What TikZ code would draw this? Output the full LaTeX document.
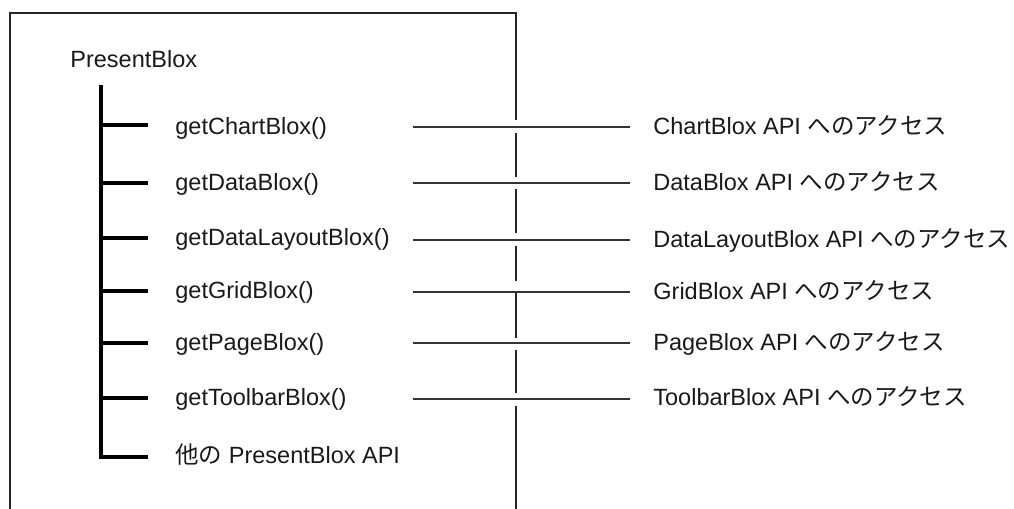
\documentclass[tikz,border=0pt]{standalone}
\usepackage{fontspec}
\setmainfont{Liberation Sans}
\newfontfamily\jp{Noto Sans CJK JP}
\usepackage{tikz}

\begin{document}
\begin{tikzpicture}
  [x=0.5pt, y=-0.5pt,
   frame/.style={draw=black!85, line width=1.4pt},
   tree/.style={draw=black, line width=2pt},
   link/.style={draw=black!80, line width=0.9pt},
   label/.style={anchor=base west, inner sep=0pt, text=black!90,
                 font=\fontsize{11.75}{14}\selectfont},
  ]
  \useasboundingbox (0,0) rectangle (1014,509);

  % outer frame, broken where the links pass
  \draw[frame] (10,509) -- (10,13) -- (516,13) -- (516,120);
  \draw[frame] (516,133) -- (516,177);
  \draw[frame] (516,189) -- (516,233);
  \draw[frame] (516,246) -- (516,281);
  \draw[frame] (516,293) -- (516,338);
  \draw[frame] (516,350) -- (516,393);
  \draw[frame] (516,406) -- (516,509);

  \node[label] (root) at (70,67) {PresentBlox};

  \node[label] (m1) at (175,134) {getChartBlox()};
  \node[label] (m2) at (175,190) {getDataBlox()};
  \node[label] (m3) at (175,245) {getDataLayoutBlox()};
  \node[label] (m4) at (175,298) {getGridBlox()};
  \node[label] (m5) at (175,350) {getPageBlox()};
  \node[label] (m6) at (175,405) {getToolbarBlox()};
  \node[label] (m7) at (175,463) {{\jp 他の} PresentBlox API};

  \node[label] (a1) at (653,134) {ChartBlox API {\jp へのアクセス}};
  \node[label] (a2) at (653,190) {DataBlox API {\jp へのアクセス}};
  \node[label] (a3) at (653,247) {DataLayoutBlox API {\jp へのアクセス}};
  \node[label] (a4) at (653,299) {GridBlox API {\jp へのアクセス}};
  \node[label] (a5) at (653,350) {PageBlox API {\jp へのアクセス}};
  \node[label] (a6) at (653,405) {ToolbarBlox API {\jp へのアクセス}};

  % tree
  \coordinate (t0) at (101,85);
  \coordinate (t7) at (101,457);
  \coordinate (e7) at (148,457);
  \coordinate (b1) at (101,125);  \coordinate (e1) at (148,125);
  \coordinate (b2) at (101,183);  \coordinate (e2) at (148,183);
  \coordinate (b3) at (101,238);  \coordinate (e3) at (148,238);
  \coordinate (b4) at (101,291);  \coordinate (e4) at (148,291);
  \coordinate (b5) at (101,343);  \coordinate (e5) at (148,343);
  \coordinate (b6) at (101,398);  \coordinate (e6) at (148,398);

  \draw[tree, line join=miter] (t0) -- (t7) -- (e7);
  \path (b1) edge[tree] (e1)
        (b2) edge[tree] (e2)
        (b3) edge[tree] (e3)
        (b4) edge[tree] (e4)
        (b5) edge[tree] (e5)
        (b6) edge[tree] (e6);

  % links to the apis
  \coordinate (l1) at (413,127);  \coordinate (r1) at (630,127);
  \coordinate (l2) at (413,183);  \coordinate (r2) at (630,183);
  \coordinate (l3) at (413,240);  \coordinate (r3) at (630,240);
  \coordinate (l4) at (413,292);  \coordinate (r4) at (630,292);
  \coordinate (l5) at (413,343);  \coordinate (r5) at (630,343);
  \coordinate (l6) at (413,399);  \coordinate (r6) at (630,399);

  \path (l1) edge[link] (r1)
        (l2) edge[link] (r2)
        (l3) edge[link] (r3)
        (l4) edge[link] (r4)
        (l5) edge[link] (r5)
        (l6) edge[link] (r6);

\end{tikzpicture}
\end{document}
